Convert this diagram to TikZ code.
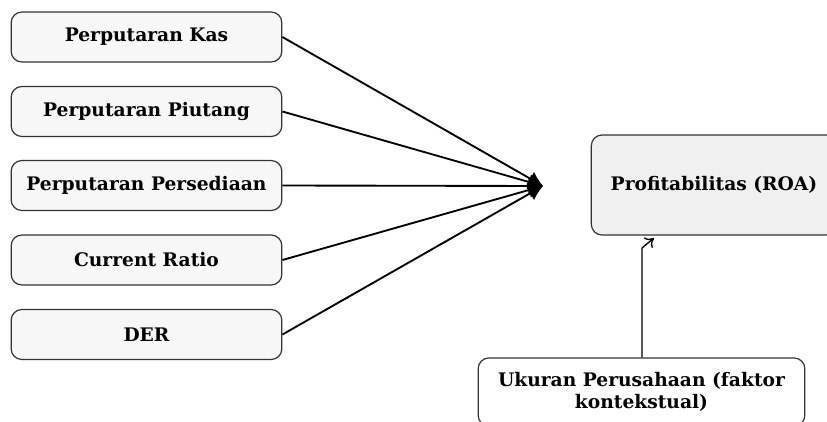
\documentclass[tikz,border=0pt]{standalone}
\usepackage{fontspec}
\setmainfont{DejaVu Serif}
\usetikzlibrary{arrows.meta}

\begin{document}
\begin{tikzpicture}[x=0.75pt,y=-0.75pt,
    varbox/.style={draw=black!80,line width=0.9pt,rounded corners=8pt,fill=black!3,
      minimum width=203pt,minimum height=37.5pt,font=\bfseries\fontsize{14}{16.5}\selectfont},
    roabox/.style={varbox,fill=black!6,minimum width=184pt,minimum height=75pt},
    ctxbox/.style={varbox,fill=white,minimum width=245pt,minimum height=51pt,align=center},
    conn/.style={line width=1.4pt,-{Latex[length=11pt,width=12pt]}}]
  \clip (0,0) rectangle (827,421);
  \node[varbox] (kas) at (146.5,37) {Perputaran Kas};
  \node[varbox] (piutang) at (146.5,111.5) {Perputaran Piutang};
  \node[varbox] (persediaan) at (146.5,185.5) {Perputaran Persediaan};
  \node[varbox] (cr) at (146.5,260) {Current Ratio};
  \node[varbox] (der) at (146.5,334.5) {DER};
  \coordinate (hub) at (543,186);
  \foreach \n in {kas,piutang,persediaan,cr,der}
    \draw[conn] (\n.east) -- (hub);
  \node[roabox] (roa) at (714,185) {Profitabilitas (ROA)};
  \node[ctxbox] (ukuran) at (641.5,392) {Ukuran Perusahaan (faktor\\kontekstual)};
  % short kink just under the ROA box
  \coordinate (bend) at (642,248);
  \coordinate (tip) at (654,238);
  \draw[line width=1pt,-{To[length=6pt,width=10pt]}] (ukuran.north -| bend) -- (bend) -- (tip);
\end{tikzpicture}
\end{document}
